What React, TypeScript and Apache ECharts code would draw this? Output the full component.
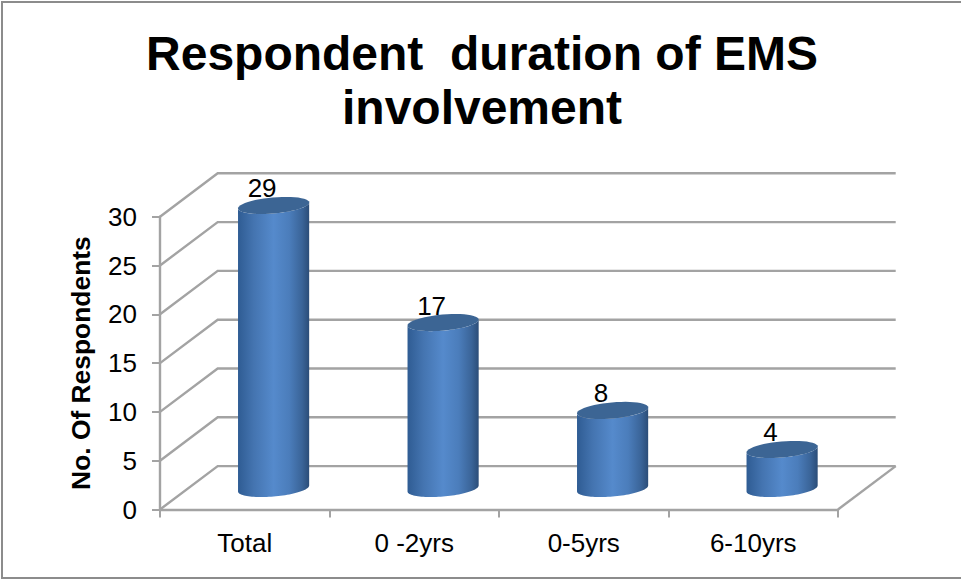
import React, { useEffect, useRef } from "react";
import * as echarts from "echarts";

const titleLines = "Respondent  duration of EMS\ninvolvement";
const yAxisName = "No. Of Respondents";
const categories = ["Total", "0 -2yrs", "0-5yrs", "6-10yrs"];
const respondents = [29, 17, 8, 4];
const yTicks = [0, 5, 10, 15, 20, 25, 30];

const FONT = "'Liberation Sans', Arial, sans-serif";
const AXIS = "#a3a3a3";
const FRAME = "#8c8c8c";
const DX = 57.7;
const DY = 43.4;

function wallItem(params: any, api: any) {
  const v = api.value(0);
  const sys = params.coordSys;
  const y = api.coord([0, v])[1];
  const x = sys.x;
  const children: any[] = [
    {
      type: "polyline",
      shape: { points: [[x, y], [x + DX, y - DY], [x + sys.width + DX, y - DY]] },
      style: { stroke: AXIS, lineWidth: 2.4, fill: "none" },
    },
  ];
  if (v === 0) {
    children.push({
      type: "line",
      shape: { x1: x + sys.width, y1: y, x2: x + sys.width + DX, y2: y - DY },
      style: { stroke: AXIS, lineWidth: 2.4 },
    });
  }
  return { type: "group", children };
}

function ellipseArc(cx: number, cy: number, rx: number, ry: number, tiltDeg: number, from: number, to: number) {
  const c = Math.cos((tiltDeg * Math.PI) / 180);
  const s = Math.sin((tiltDeg * Math.PI) / 180);
  const pts: number[][] = [];
  for (let i = 0; i <= 48; i++) {
    const t = from + ((to - from) * i) / 48;
    pts.push([cx + rx * Math.cos(t) * c + ry * Math.sin(t) * s, cy - rx * Math.cos(t) * s + ry * Math.sin(t) * c]);
  }
  return pts;
}

function cylinderItem(_params: any, api: any) {
  const idx = api.value(0);
  const v = api.value(1);
  const [bx, by0] = api.coord([idx, 0]);
  const top = api.coord([idx, v])[1];
  const cx = bx + DX / 2;
  const baseY = by0 - 21;
  const topY = top - 21;
  const rx = 35.7;
  const ry = 8;
  const tilt = 5;
  const t0 = Math.atan2(ry * Math.sin((tilt * Math.PI) / 180), rx * Math.cos((tilt * Math.PI) / 180));
  const bottom = ellipseArc(cx, baseY, rx, ry, tilt, t0, t0 + Math.PI);
  const upper = ellipseArc(cx, topY, rx, ry, tilt, t0 + Math.PI, t0);
  const capPts = ellipseArc(cx, topY, rx, ry, tilt, 0, Math.PI * 2);
  return {
    type: "group",
    children: [
      {
        type: "polygon",
        shape: { points: [...bottom, ...upper] },
        style: {
          fill: new echarts.graphic.LinearGradient(0, 0, 1, 0, [
            { offset: 0, color: "#2f5c93" },
            { offset: 0.22, color: "#4474b0" },
            { offset: 0.5, color: "#558acc" },
            { offset: 0.72, color: "#4b7dbb" },
            { offset: 0.9, color: "#3a6498" },
            { offset: 1, color: "#2b4d78" },
          ]),
        },
      },
      { type: "polygon", shape: { points: capPts }, style: { fill: "#3c6594" } },
      {
        type: "text",
        x: cx - 11.5,
        y: topY - 17,
        style: { text: String(v), font: `26px ${FONT}`, fill: "#000", align: "center", verticalAlign: "middle" },
      },
    ],
  };
}

export default function App() {
  const ref = useRef<HTMLDivElement>(null);
  useEffect(() => {
    document.body.style.margin = "0";
    const chart = echarts.init(ref.current!, null, { renderer: "svg" });
    chart.setOption({
      animation: false,
      backgroundColor: "#fff",
      title: {
        text: titleLines,
        left: 477,
        top: 21,
        textAlign: "center",
        textStyle: { fontFamily: FONT, fontSize: 48, fontWeight: "bold", color: "#000", lineHeight: 54 },
      },
      graphic: [
        { type: "line", shape: { x1: 2, y1: 1, x2: 2, y2: 579 }, style: { stroke: FRAME, lineWidth: 2 } },
        { type: "line", shape: { x1: 1, y1: 2, x2: 961, y2: 2 }, style: { stroke: FRAME, lineWidth: 2 } },
        { type: "line", shape: { x1: 1, y1: 578, x2: 961, y2: 578 }, style: { stroke: FRAME, lineWidth: 2 } },
      ],
      grid: { left: 160, right: 123, top: 216.7, bottom: 69.5 },
      xAxis: {
        type: "category",
        data: categories,
        axisLine: { lineStyle: { color: AXIS, width: 2.4 } },
        axisTick: { show: true, length: 8, lineStyle: { color: AXIS, width: 2 } },
        axisLabel: { fontFamily: FONT, fontSize: 26, color: "#000", margin: 20 },
      },
      yAxis: {
        type: "value",
        min: 0,
        max: 30,
        interval: 5,
        name: yAxisName,
        nameLocation: "middle",
        nameGap: 66,
        nameTextStyle: { fontFamily: FONT, fontSize: 26.4, fontWeight: "bold", color: "#000" },
        axisLine: { show: true, lineStyle: { color: AXIS, width: 2.4 } },
        axisTick: { show: true, length: 8, lineStyle: { color: AXIS, width: 2 } },
        axisLabel: { fontFamily: FONT, fontSize: 26, color: "#000", margin: 23, padding: [3, 0, 0, 0] },
        splitLine: { show: false },
      },
      series: [
        {
          type: "custom",
          renderItem: wallItem,
          data: yTicks.map((t) => [t]),
          encode: { y: 0 },
          silent: true,
          z: 1,
        },
        {
          type: "custom",
          renderItem: cylinderItem,
          data: respondents.map((v, i) => [i, v]),
          encode: { x: 0, y: 1 },
          silent: true,
          z: 2,
        },
      ],
    });
    return () => chart.dispose();
  }, []);
  return <div ref={ref} style={{ width: 961, height: 579 }} />;
}
